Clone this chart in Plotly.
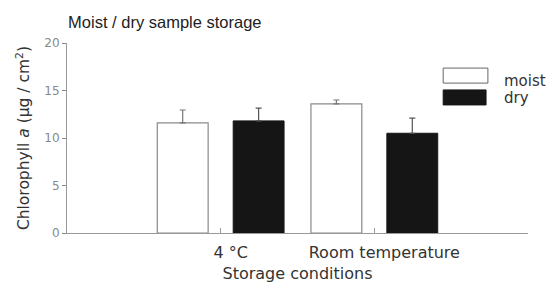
import plotly.graph_objects as go

categories = ["4 °C", "Room temperature"]
cat_pos = [1, 2]
moist = [11.6, 13.6]
moist_err = [1.35, 0.4]
dry = [11.8, 10.5]
dry_err = [1.35, 1.6]
y_ticks = [0, 5, 10, 15, 20]

TFONT = "Liberation Sans, Arial, sans-serif"
FONT = "DejaVu Sans, sans-serif"

fig = go.Figure()
fig.add_trace(go.Bar(
    x=cat_pos, y=moist, name="moist",
    marker=dict(color="white", line=dict(color="#8a8a8a", width=1.2)),
    error_y=dict(type="data", array=moist_err, arrayminus=[0, 0], symmetric=False,
                 color="#777", thickness=1.2, width=3),
))
fig.add_trace(go.Bar(
    x=cat_pos, y=dry, name="dry",
    marker=dict(color="#151515", line=dict(color="#151515", width=1)),
    error_y=dict(type="data", array=dry_err, arrayminus=[0, 0], symmetric=False,
                 color="#555", thickness=1.2, width=3),
))

# custom legend (wide swatches like the reference)
fig.add_shape(type="rect", xref="paper", yref="paper", x0=0.816, x1=0.913, y0=0.789, y1=0.868,
              line=dict(color="#666", width=1), fillcolor="white")
fig.add_shape(type="rect", xref="paper", yref="paper", x0=0.816, x1=0.909, y0=0.674, y1=0.753,
              line=dict(color="#151515", width=1), fillcolor="#151515")
fig.add_annotation(xref="paper", yref="paper", x=0.944, y=0.80, text="moist", showarrow=False,
                   xanchor="left", yanchor="middle", font=dict(family=FONT, size=15, color="#333"))
fig.add_annotation(xref="paper", yref="paper", x=0.944, y=0.71, text="dry", showarrow=False,
                   xanchor="left", yanchor="middle", font=dict(family=FONT, size=15, color="#333"))

fig.update_layout(
    width=549, height=292,
    margin=dict(l=67, r=21, t=43, b=59, autoexpand=False),
    paper_bgcolor="white", plot_bgcolor="white",
    barmode="group", bargap=0.012, bargroupgap=0.33,
    showlegend=False,
    font=dict(family=FONT, color="#333"),
    title=dict(text="Moist / dry sample storage", x=0.124, xanchor="left", y=0.925, yanchor="middle",
               automargin=False, font=dict(family=TFONT, size=16.5, color="#222")),
    xaxis=dict(range=[0, 3], tickvals=cat_pos + [3], ticktext=categories + [""],
               ticks="inside", ticklen=5, tickcolor="#999", showgrid=False, zeroline=False,
               showline=True, linecolor="#999", linewidth=1, automargin=False,
               tickfont=dict(family=FONT, size=16, color="#333"), ticklabelshift=10,
               ticklabelstandoff=5,
               title=dict(text="Storage conditions", font=dict(family=FONT, size=16, color="#333"),
                          standoff=6)),
    yaxis=dict(range=[0, 20], tickvals=y_ticks, ticks="outside", ticklen=4, tickcolor="#888",
               showgrid=False, zeroline=False, showline=True, linecolor="#999", linewidth=1,
               automargin=False,
               tickfont=dict(family=FONT, size=12, color="#888"),
               title=dict(text="Chlorophyll <i>a</i> (µg / cm<sup>2</sup>)",
                          font=dict(family=FONT, size=15.5, color="#333"), standoff=10)),
)

fig.write_html("out.html", config={"displayModeBar": False},
               post_script="document.body.style.margin='0';")
